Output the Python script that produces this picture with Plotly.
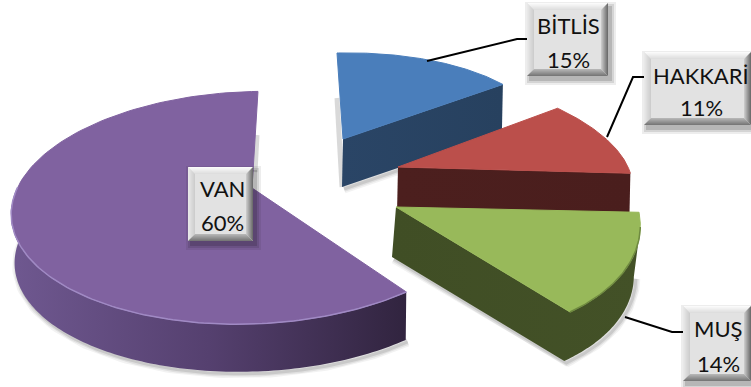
import numpy as np
import plotly.graph_objects as go

# ---- data ----
categories = ["BİTLİS", "HAKKARİ", "MUŞ", "VAN"]
shares = [15, 11, 14, 60]

# ---- styling / projection of the exploded 3D pie ----
top_colors = ["#4a7ebb", "#bb4f4b", "#98b95a", "#8062a0"]
wall_scales = [
    [[0, "#2a4566"], [1, "#27415f"]],
    [[0, "#4c1f1e"], [1, "#4a1e1d"]],
    [[0, "#404e25"], [1, "#435127"]],
    [[0, "#6f5890"], [0.5, "#55406f"], [1, "#31243f"]],
]
rim_colors = [None, None, "#6f8a40", "#a08ac4"]
# apex, U (direction at 90 deg), V (direction at 0 deg), perspective k, wall drop, wall shrink
proj = [
    dict(a=(343, 139), u=(202, -5), v=(-6, -86), k=0.0, d=(-1, 48), s=1.0, chain=None),
    dict(a=(398, 167), u=(230, 0), v=(-45, -100), k=0.0, d=(-1, 46), s=1.0, chain=None),
    dict(a=(396, 207), u=(241, -3), v=(-40, -132), k=0.0, d=(-4, 50), s=0.99, chain=100),
    dict(a=(252, 188), u=(236, -3), v=(7, -113), k=0.17, d=(1, 49), s=0.99, chain=272),
]
boxes = [(527, 3, 608, 76), (644, 52, 751, 125), (683, 306, 751, 381), (188, 167, 253, 241)]
line_y = [(25, 59), (75, 107), (328, 363), (188, 222)]
text_x = [568, 701, 718, 222]
leaders = [
    ([427, 517, 527], [61, 39, 39]),
    ([607, 633, 644], [137, 77, 77]),
    ([625, 672, 683], [317, 332, 332]),
]
# faint cast shadows beside the back edges of two slices
edge_shadows = [
    ([337, 342], [98, 187], 5),
    ([257, 255], [135, 172], 5),
]

edges = np.cumsum([0] + shares) / sum(shares) * 360.0


def pt(p, deg, r=1.0):
    t = np.radians(deg)
    w = 1 + p["k"] * np.cos(t)
    x = p["a"][0] + r * (np.sin(t) * p["u"][0] + np.cos(t) * p["v"][0]) / w
    y = p["a"][1] + r * (np.sin(t) * p["u"][1] + np.cos(t) * p["v"][1]) / w
    return np.array(x), np.array(y)


def dropped(p, xs, ys):
    xs, ys = np.asarray(xs, float), np.asarray(ys, float)
    return (p["a"][0] + (xs - p["a"][0]) * p["s"] + p["d"][0],
            p["a"][1] + (ys - p["a"][1]) * p["s"] + p["d"][1])


fig = go.Figure()
for lx, ly, w in edge_shadows:
    fig.add_trace(go.Scatter(x=lx, y=ly, mode="lines",
                             line=dict(color="rgba(0,0,0,0.15)", width=w),
                             hoverinfo="skip", showlegend=False))

for i, p in enumerate(proj):
    t0, t1 = edges[i], edges[i + 1]
    arc = np.linspace(t0, t1, 120)
    ax_, ay_ = pt(p, arc)
    top_x = np.r_[p["a"][0], ax_, p["a"][0]]
    top_y = np.r_[p["a"][1], ay_, p["a"][1]]

    # visible wall: chain of outline points, extruded downwards
    rx, ry = None, None
    if i in (0, 1):
        ex, ey = pt(p, t1)
        cx, cy = np.r_[p["a"][0], ex], np.r_[p["a"][1], ey]
    elif i == 2:
        ca = np.linspace(t1, p["chain"], 60)
        ax2, ay2 = pt(p, ca)
        cx, cy = np.r_[p["a"][0], ax2], np.r_[p["a"][1], ay2]
        rx, ry = ax2, ay2
    else:
        ca = np.linspace(t0, p["chain"], 120)
        cx, cy = pt(p, ca)
        rx, ry = cx, cy
    dx, dy = dropped(p, cx, cy)

    # soft shadow below the wall
    for width, alpha in ((9, 0.05), (6, 0.07), (3, 0.10)):
        fig.add_trace(go.Scatter(x=dx + 2, y=dy + 2, mode="lines",
                                 line=dict(color=f"rgba(0,0,0,{alpha})", width=width),
                                 hoverinfo="skip", showlegend=False))
    # wall
    fig.add_trace(go.Scatter(x=np.r_[cx, dx[::-1], cx[0]], y=np.r_[cy, dy[::-1], cy[0]],
                             mode="none", fill="toself",
                             fillgradient=dict(type="horizontal", colorscale=wall_scales[i]),
                             hoverinfo="skip", showlegend=False))
    # top face
    fig.add_trace(go.Scatter(x=top_x, y=top_y, mode="lines", fill="toself",
                             fillcolor=top_colors[i], line=dict(color=top_colors[i], width=1),
                             name=categories[i], hoverinfo="skip", showlegend=False))
    # lit rim
    if rx is not None:
        fig.add_trace(go.Scatter(x=rx, y=ry, mode="lines",
                                 line=dict(color=rim_colors[i], width=1.5),
                                 hoverinfo="skip", showlegend=False))

# leader lines
for lx, ly in leaders:
    fig.add_trace(go.Scatter(x=lx, y=ly, mode="lines", line=dict(color="#000000", width=2),
                             hoverinfo="skip", showlegend=False))


def mix(c0, c1, f):
    return "#%02x%02x%02x" % tuple(int(round(a + (b - a) * f)) for a, b in zip(c0, c1))


shapes = []
annotations = []
for i, (x0, y0, x1, y1) in enumerate(boxes):
    # drop shadow
    for grow, alpha in ((5, 0.07), (3, 0.10), (1, 0.14)):
        shapes.append(dict(type="rect", xref="x", yref="y", x0=x0 + 3 - grow, x1=x1 + 3 + grow,
                           y0=y0 + 4 - grow, y1=y1 + 4 + grow, line=dict(width=0),
                           fillcolor=f"rgba(0,0,0,{alpha})", layer="above"))
    shapes.append(dict(type="rect", xref="x", yref="y", x0=x0, x1=x1, y0=y0, y1=y1,
                       line=dict(width=0), fillcolor="#e2e2e2", layer="above"))
    n = 7
    sides = {
        "t": ((250, 250, 250), (222, 222, 222)),
        "l": ((232, 232, 232), (205, 205, 205)),
        "r": ((110, 110, 110), (200, 200, 200)),
        "b": ((120, 120, 120), (180, 180, 180)),
    }
    for k in range(n):
        a, b = k, k + 1
        f = k / (n - 1)
        for side, (c0, c1) in sides.items():
            if side == "t":
                path = f"M{x0+a},{y0+a} L{x1-a},{y0+a} L{x1-b},{y0+b} L{x0+b},{y0+b} Z"
            elif side == "b":
                path = f"M{x0+a},{y1-a} L{x1-a},{y1-a} L{x1-b},{y1-b} L{x0+b},{y1-b} Z"
            elif side == "l":
                path = f"M{x0+a},{y0+a} L{x0+b},{y0+b} L{x0+b},{y1-b} L{x0+a},{y1-a} Z"
            else:
                path = f"M{x1-a},{y0+a} L{x1-b},{y0+b} L{x1-b},{y1-b} L{x1-a},{y1-a} Z"
            shapes.append(dict(type="path", path=path, xref="x", yref="y", line=dict(width=0),
                               fillcolor=mix(c0, c1, f), layer="above"))
    for txt, ty in zip((categories[i], f"{shares[i]}%"), line_y[i]):
        annotations.append(dict(text=txt, x=text_x[i], y=ty, xref="x", yref="y", showarrow=False,
                                font=dict(family="Lato", size=22, color="#111111"),
                                xanchor="center", yanchor="middle"))

fig.update_layout(
    width=751, height=387, margin=dict(l=0, r=0, t=0, b=0),
    paper_bgcolor="#ffffff", plot_bgcolor="#ffffff", showlegend=False,
    xaxis=dict(range=[0, 751], visible=False, fixedrange=True),
    yaxis=dict(range=[387, 0], visible=False, fixedrange=True),
    shapes=shapes, annotations=annotations,
)
fig.write_html("out.html", config=dict(displayModeBar=False),
               post_script="document.body.style.margin='0';document.documentElement.style.overflow='hidden';")
